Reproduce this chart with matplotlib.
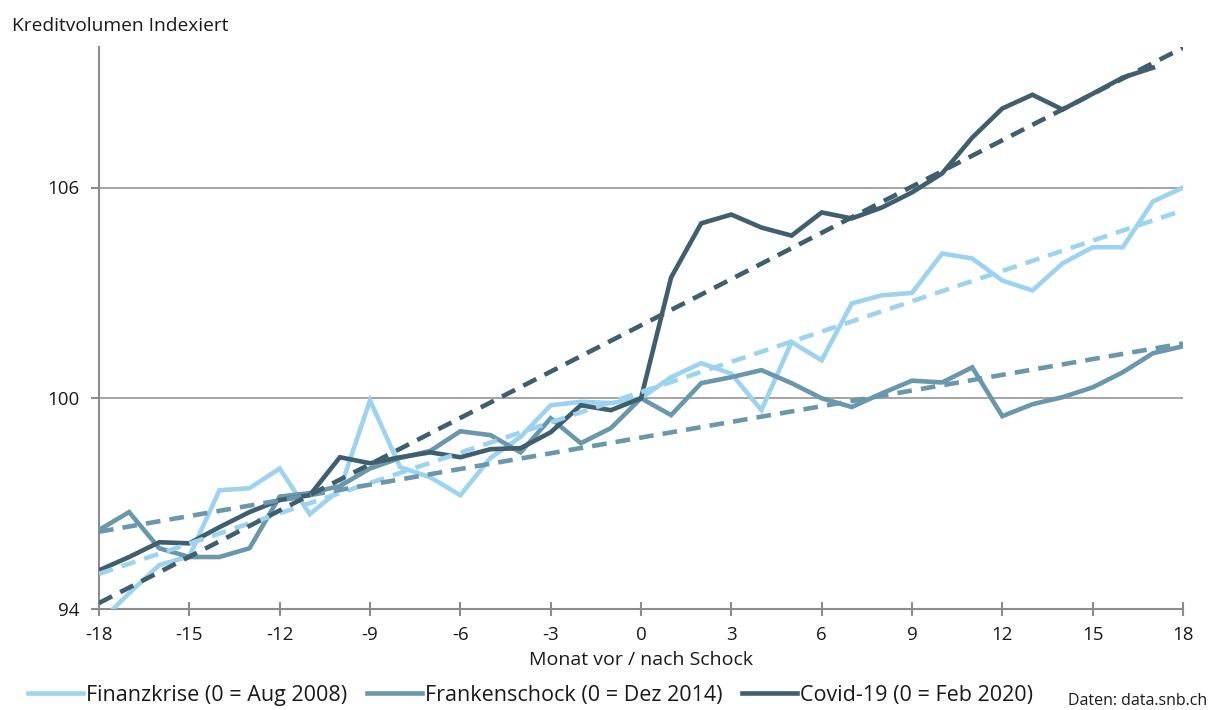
import matplotlib
import matplotlib.pyplot as plt

matplotlib.use("agg")
plt.rcParams["font.family"] = ["Open Sans", "DejaVu Sans"]
plt.rcParams["axes.unicode_minus"] = False

# months before / after the shock
months = list(range(-18, 19))
months_covid = list(range(-18, 18))

finanzkrise = [93.6, 94.45, 95.25, 95.5, 97.38, 97.44, 98.0, 96.7, 97.4, 99.94,
               98.04, 97.75, 97.24, 98.3, 98.9, 99.8, 99.9, 99.86, 100.0,
               100.6, 101.0, 100.7, 99.66, 101.6, 101.08, 102.7, 102.93, 103.0,
               104.12, 103.98, 103.35, 103.07, 103.84, 104.3, 104.3, 105.6, 106.0]
frankenschock = [96.25, 96.76, 95.73, 95.48, 95.48, 95.73, 97.2, 97.3, 97.5, 98.0,
                 98.3, 98.5, 99.06, 98.95, 98.46, 99.43, 98.72, 99.15, 100.0,
                 99.52, 100.43, 100.6, 100.8, 100.43, 100.0, 99.75, 100.14, 100.5,
                 100.45, 100.88, 99.49, 99.83, 100.03, 100.31, 100.74, 101.28, 101.48]
covid = [95.1, 95.48, 95.9, 95.87, 96.33, 96.76, 97.1, 97.24, 98.32, 98.15,
         98.32, 98.46, 98.32, 98.55, 98.58, 99.03, 99.8, 99.66, 100.0,
         103.44, 104.98, 105.23, 104.86, 104.63, 105.29, 105.12, 105.43, 105.86,
         106.4, 107.42, 108.25, 108.64, 108.22, 108.67, 109.13, 109.41]

# linear trend lines, values at -18 and +18
trend_x = [-18, 18]
trend_finanz = [95.0, 105.35]
trend_franken = [96.2, 101.56]
trend_covid = [94.17, 109.98]

labels = ["Finanzkrise (0 = Aug 2008)", "Frankenschock (0 = Dez 2014)",
          "Covid-19 (0 = Feb 2020)"]
colors = ["#9bd3f0", "#6997ab", "#405f6e"]

fig = plt.figure(figsize=(12.2, 7.1), dpi=100)
ax = fig.add_axes([99 / 1220, 101 / 710, 1084 / 1220, 562 / 710])

lw = 3.3
for x, y, c, lab in [(months, finanzkrise, colors[0], labels[0]),
                     (months, frankenschock, colors[1], labels[1]),
                     (months_covid, covid, colors[2], labels[2])]:
    ax.plot(x, y, color=c, lw=lw, label=lab, solid_joinstyle="miter", zorder=3)

for t, c in zip([trend_finanz, trend_franken, trend_covid], colors):
    ax.plot(trend_x, t, color=c, lw=lw, dashes=(3.2, 2.0), zorder=4)

ax.set_xlim(-18, 18)
ax.set_ylim(94, 110)
ax.set_xticks(range(-18, 19, 3))
ax.set_yticks([94, 100, 106])
for v in [100, 106]:
    ax.axhline(v, color="#8c8c8c", lw=1.1, zorder=1)

for s in ["top", "right"]:
    ax.spines[s].set_visible(False)
for s in ["left", "bottom"]:
    ax.spines[s].set_color("#8c8c8c")
    ax.spines[s].set_linewidth(1.5)
ax.tick_params(axis="x", direction="inout", length=10, width=1.5, color="#8c8c8c",
               labelsize=13.5, pad=7, labelcolor="#1a1a1a")
ax.tick_params(axis="y", direction="out", length=6, width=1.5, color="#8c8c8c",
               labelsize=13.5, pad=8, labelcolor="#1a1a1a")
ax.set_xlabel("Monat vor / nach Schock", fontsize=14, labelpad=5, color="#1a1a1a")

fig.text(12 / 1220, 1 - 26 / 710, "Kreditvolumen Indexiert", fontsize=13.8,
         va="center", ha="left", color="#1a1a1a")

fig.legend(loc="lower left", bbox_to_anchor=(28 / 1220, 4 / 710), ncol=3,
           frameon=False, fontsize=15.5, handlelength=2.55, handletextpad=0.15,
           columnspacing=0.9, borderpad=0, borderaxespad=0, labelcolor="#1a1a1a")

fig.text(1068 / 1220, 1 / 710, "Daten: data.snb.ch", fontsize=11.5, va="bottom",
         ha="left", color="#1a1a1a")

fig.savefig("out.png", dpi=100)
plt.close(fig)
